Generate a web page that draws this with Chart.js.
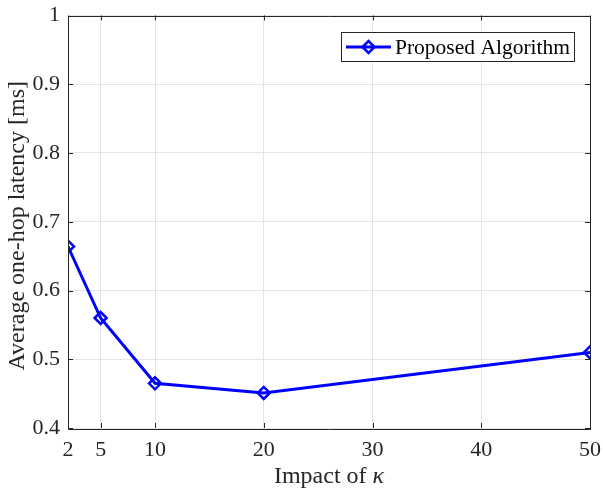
<!DOCTYPE html>
<html>
<head>
<meta charset="utf-8">
<script src="https://cdn.jsdelivr.net/npm/chart.js@4.4.1/dist/chart.umd.min.js"></script>
<style>
    html, body { margin: 0; padding: 0; background: #fff; }
    #wrap { width: 603px; height: 491px; }
</style>
</head>
<body>
<div id="wrap"><canvas id="latencyChart" width="603" height="491"></canvas></div>
<script>
// data
var kappaValues = [2, 5, 10, 20, 50];
var latencyValues = [0.664, 0.560, 0.465, 0.451, 0.510];
var xTickValues = [2, 5, 10, 20, 30, 40, 50];
var yTickValues = [0.4, 0.5, 0.6, 0.7, 0.8, 0.9, 1];
var seriesLabel = "Proposed Algorithm";
var xTitleText = "Impact of ";
var xTitleSymbol = "\u03ba";
var yTitleText = "Average one-hop latency [ms]";

var serif = "'Liberation Serif', 'DejaVu Serif', serif";
var axisColor = "#262626";
var blue = "#0000ff";

function drawDiamond(ctx, x, y, r) {
    ctx.beginPath();
    ctx.moveTo(x, y - r);
    ctx.lineTo(x + r, y);
    ctx.lineTo(x, y + r);
    ctx.lineTo(x - r, y);
    ctx.closePath();
    ctx.stroke();
}

// box, inward ticks, titles and legend in MATLAB style
var matlabLook = {
    id: 'matlabLook',
    afterDraw: function(chart) {
        var ctx = chart.ctx;
        var area = chart.chartArea;
        var xs = chart.scales.x;
        var ys = chart.scales.y;
        var tl = 5;

        ctx.save();
        ctx.strokeStyle = axisColor;
        ctx.lineWidth = 1;

        // box
        ctx.beginPath();
        ctx.rect(Math.round(area.left) + 0.5, Math.round(area.top) + 0.5,
            Math.round(area.right - area.left), Math.round(area.bottom - area.top));
        ctx.stroke();

        // ticks on all four sides
        ctx.beginPath();
        xTickValues.forEach(function(v) {
            var px = Math.round(xs.getPixelForValue(v)) + 0.5;
            ctx.moveTo(px, area.bottom);
            ctx.lineTo(px, area.bottom - tl);
            ctx.moveTo(px, area.top);
            ctx.lineTo(px, area.top + tl);
        });
        yTickValues.forEach(function(v) {
            var py = Math.round(ys.getPixelForValue(v)) + 0.5;
            ctx.moveTo(area.left, py);
            ctx.lineTo(area.left + tl, py);
            ctx.moveTo(area.right, py);
            ctx.lineTo(area.right - tl, py);
        });
        ctx.stroke();

        // x title with italic kappa
        ctx.fillStyle = axisColor;
        ctx.textBaseline = 'alphabetic';
        ctx.font = "24px " + serif;
        var w1 = ctx.measureText(xTitleText).width;
        ctx.font = "italic 24px " + serif;
        var w2 = ctx.measureText(xTitleSymbol).width;
        var cx = (area.left + area.right) / 2;
        var startX = cx - (w1 + w2) / 2;
        ctx.font = "24px " + serif;
        ctx.textAlign = 'left';
        ctx.fillText(xTitleText, startX, 483);
        ctx.font = "italic 24px " + serif;
        ctx.fillText(xTitleSymbol, startX + w1, 483);

        // y title
        ctx.save();
        ctx.translate(24, (area.top + area.bottom) / 2 + 4);
        ctx.rotate(-Math.PI / 2);
        ctx.font = "24px " + serif;
        ctx.textAlign = 'center';
        ctx.fillText(yTitleText, 0, 0);
        ctx.restore();

        // legend
        var lx = 341.5, ly = 32.5, lw = 233, lh = 29;
        ctx.fillStyle = '#fff';
        ctx.fillRect(lx, ly, lw, lh);
        ctx.strokeStyle = axisColor;
        ctx.lineWidth = 1;
        ctx.strokeRect(lx, ly, lw, lh);
        var my = ly + lh / 2;
        ctx.strokeStyle = blue;
        ctx.lineWidth = 3;
        ctx.beginPath();
        ctx.moveTo(346, my);
        ctx.lineTo(391, my);
        ctx.stroke();
        ctx.lineWidth = 2.5;
        drawDiamond(ctx, 368.5, my, 6);
        ctx.fillStyle = '#000';
        ctx.font = "21.5px " + serif;
        ctx.textAlign = 'left';
        ctx.textBaseline = 'middle';
        ctx.fillText(seriesLabel, 395, my + 1);
        ctx.restore();
    }
};

var ctx = document.querySelector("#latencyChart").getContext("2d");

var latencyChart = new Chart(ctx, {
    type: 'scatter',
    data: {
        datasets: [
            {
                label: seriesLabel,
                data: kappaValues.map(function(k, i) { return { x: k, y: latencyValues[i] }; }),
                showLine: true,
                borderColor: blue,
                borderWidth: 3,
                pointStyle: 'rectRot',
                pointRadius: 6,
                pointBorderWidth: 2.5,
                pointBorderColor: blue,
                pointBackgroundColor: 'rgba(0,0,0,0)',
                tension: 0
            }
        ]
    },
    plugins: [matlabLook],
    options: {
        responsive: false,
        animation: false,
        layout: { padding: { left: 0, top: 15.5, right: 13, bottom: 0 } },
        plugins: {
            legend: { display: false },
            tooltip: { enabled: false }
        },
        scales: {
            x: {
                type: 'linear',
                min: 2,
                max: 50,
                afterBuildTicks: function(scale) {
                    scale.ticks = xTickValues.map(function(v) { return { value: v }; });
                },
                afterFit: function(scale) {
                    scale.height = 63;
                    scale.paddingLeft = 0;
                    scale.paddingRight = 0;
                },
                grid: { color: '#e5e5e5', drawTicks: false },
                border: { display: false },
                ticks: {
                    padding: 9,
                    color: axisColor,
                    maxRotation: 0,
                    font: { family: serif, size: 22 }
                }
            },
            y: {
                min: 0.4,
                max: 1,
                afterBuildTicks: function(scale) {
                    scale.ticks = yTickValues.map(function(v) { return { value: v }; });
                },
                afterFit: function(scale) {
                    scale.width = 68;
                    scale.paddingTop = 0;
                    scale.paddingBottom = 0;
                },
                grid: { color: '#e5e5e5', drawTicks: false },
                border: { display: false },
                ticks: {
                    padding: 8,
                    color: axisColor,
                    font: { family: serif, size: 22 },
                    callback: function(v) { return String(Math.round(v * 10) / 10); }
                }
            }
        }
    }
});
</script>
</body>
</html>
